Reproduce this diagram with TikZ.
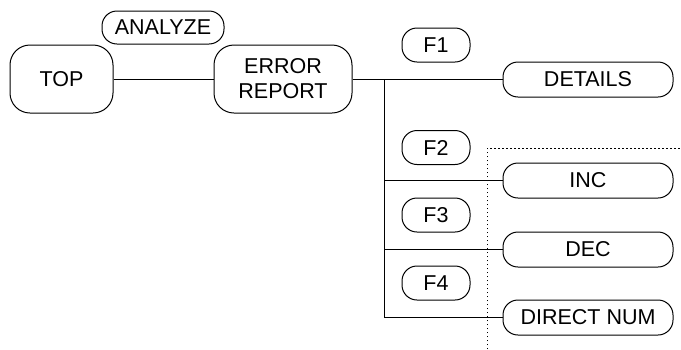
\documentclass[tikz,border=0pt]{standalone}
\usepackage{fontspec}
\setmainfont{Liberation Sans}
\usetikzlibrary{positioning}

\begin{document}
\begin{tikzpicture}[
    x=1pt, y=-1pt,
    every node/.style={font=\fontsize{21.5}{25}\selectfont},
    state/.style={rectangle, draw, line width=1pt, rounded corners=20pt, align=center, inner sep=0pt, minimum height=68pt},
    key/.style={rectangle, draw, line width=1pt, rounded corners=15pt, inner sep=0pt, minimum width=68pt, minimum height=34pt},
    item/.style={rectangle, draw, line width=1pt, rounded corners=15pt, inner sep=0pt, minimum width=170pt, minimum height=35pt},
    link/.style={line width=1pt},
    border/.style={line width=1pt, dash pattern=on 1.5pt off 2.5pt}
]
\useasboundingbox (0,0) rectangle (681,349);

% Main states
\node[state, minimum width=103pt] (top) at (61.5,79) {TOP};
\node[key, minimum width=122pt, minimum height=33pt] (analyze) at (163,27.5) {ANALYZE};
\node[state, minimum width=138pt] (report) at (283,79) {ERROR\\REPORT};

% Function keys
\node[key] (f1) at (436,45) {F1};
\node[key] (f2) at (436,147.5) {F2};
\node[key] (f3) at (436,215) {F3};
\node[key] (f4) at (436,283) {F4};

% Sub items
\node[item] (details) at (588,79.5) {DETAILS};
\node[item] (inc) at (588,180.5) {INC};
\node[item] (dec) at (588,249.5) {DEC};
\node[item] (direct) at (588,317.5) {DIRECT NUM};

\coordinate (split) at (384,79.5);

% Links
\draw[link] (top) -- (report);
\draw[link] (report.east |- details.west) -- (details.west);
\draw[link] (split) |- (direct.west);
\draw[link] (split |- inc.west) -- (inc.west);
\draw[link] (split |- dec.west) -- (dec.west);

% Boundary
\draw[border] (487,349) -- (487,148) -- (681,148);

\end{tikzpicture}
\end{document}
